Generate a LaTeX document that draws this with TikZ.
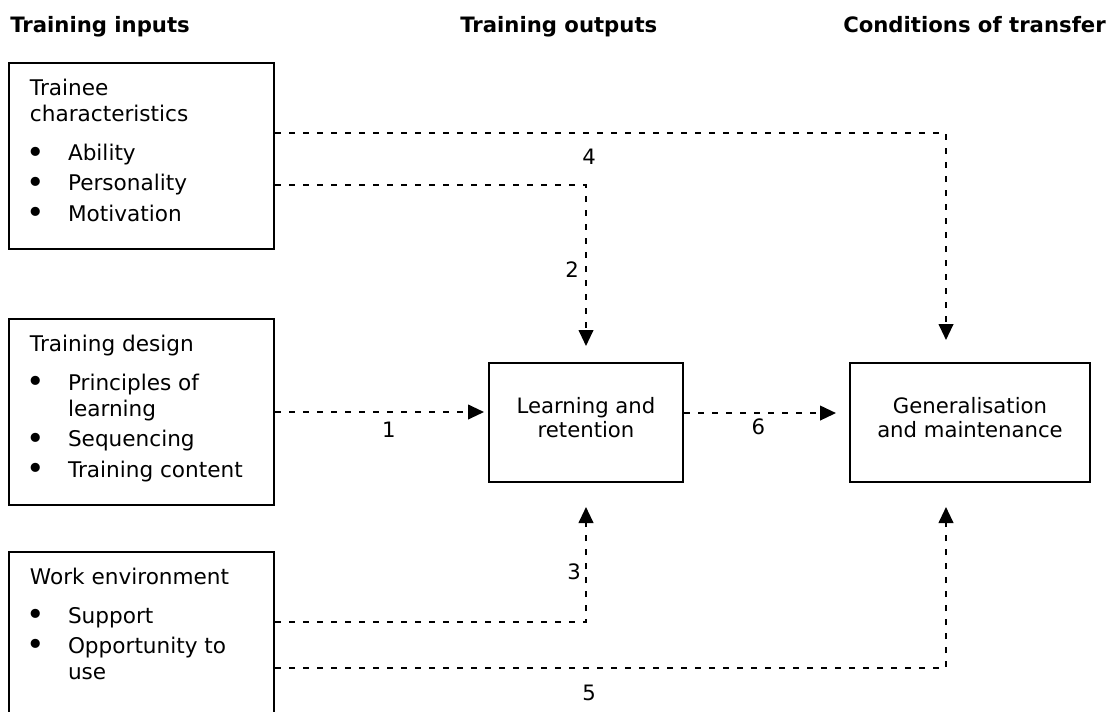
\documentclass[tikz,border=0pt]{standalone}
\usepackage{fontspec}
\setmainfont{DejaVu Sans}
\usetikzlibrary{arrows.meta}

\tikzset{
	hdr/.style={anchor=base west, inner sep=0pt, font=\bfseries\fontsize{15.9}{18}\selectfont},
	inbox/.style={draw, line width=1.5pt, inner sep=0pt, anchor=north west},
	outbox/.style={draw, line width=1.5pt, inner sep=0pt, anchor=north west, align=center,
		minimum height=89.25pt, font=\fontsize{15.9}{18}\selectfont},
	link/.style={line width=1.5pt, dash pattern=on 4.3pt off 6.2pt, -{Triangle[length=12pt,width=11pt]}},
	num/.style={inner sep=0pt, font=\fontsize{15.9}{18}\selectfont}
}

% box of the left column: height, heading, bullets
\newcommand{\inputtext}[3]{\parbox[t][#1][t]{198.75pt}{\fontsize{16.2}{19.9}\selectfont
	\raggedright\leftskip=15.75pt\parskip=2.8pt
	\rule{0pt}{24pt}#2\par\vspace{6.6pt}#3}}
\newcommand{\bul}[1]{\par\hangindent=28.5pt\hangafter=0\noindent
	\llap{\makebox[28.5pt][l]{\hspace{-2.4pt}\raisebox{-1.8pt}{\scalebox{1.45}{•}}}}#1}

\begin{document}
\begin{tikzpicture}[x=0.75pt, y=-0.75pt]
	\useasboundingbox (0,0) rectangle (1111,711);
	\clip (0,0) rectangle (1111,711);
	% headings
	\node[hdr] (hin) at (10,32) {Training inputs};
	\node[hdr] (hout) at (460,32) {Training outputs};
	\node[hdr] (hcond) at (843,32) {Conditions of transfer};
	% inputs
	\node[inbox] (trainee) at (8,62) {\inputtext{139.5pt}{Trainee\newline characteristics}{\bul{Ability}\bul{Personality}\bul{Motivation}}};
	\node[inbox] (design) at (8,318) {\inputtext{139.5pt}{Training design}{\bul{Principles of\newline learning}\bul{Sequencing}\bul{Training content}}};
	\node[inbox] (work) at (8,551) {\inputtext{140.25pt}{Work environment}{\bul{Support}\bul{Opportunity to\newline use}}};
	% outputs and transfer
	\node[outbox, minimum width=145.5pt] (learn) at (488,362) {Learning and\\retention\rule[-7.5pt]{0pt}{1pt}};
	\node[outbox, minimum width=180pt] (gen) at (849,362) {Generalisation\\and maintenance\rule[-7.5pt]{0pt}{1pt}};
	% links
	\draw[link, shorten >=3pt] (design.east) -- node[num, pos=0.535, yshift=-13pt] (n1) {1} (design.east -| learn.west);
	\draw[link, shorten >=12pt] ([yshift=-21.75pt]trainee.east) -| node[num, pos=0.739, xshift=-10.5pt] (n2) {2} (learn.north);
	\draw[link, shorten >=18pt] ([yshift=17.6pt]work.east) -| node[num, pos=0.682, xshift=-9pt] (n3) {3} (learn.south);
	\draw[link, shorten >=16.5pt] ([yshift=17.25pt]trainee.east) -| node[num, pos=0.234, yshift=-18pt] (n4) {4} ([xshift=-18pt]gen.north);
	\draw[link, shorten >=18pt] ([yshift=-16.9pt]work.east) -| node[num, pos=0.234, yshift=-18.75pt] (n5) {5} ([xshift=-18pt]gen.south);
	\draw[link, shorten >=9.75pt] ([yshift=7.1pt]learn.east) -- node[num, pos=0.45, yshift=-10.5pt] (n6) {6} ([yshift=7.1pt]gen.west);
\end{tikzpicture}
\end{document}
